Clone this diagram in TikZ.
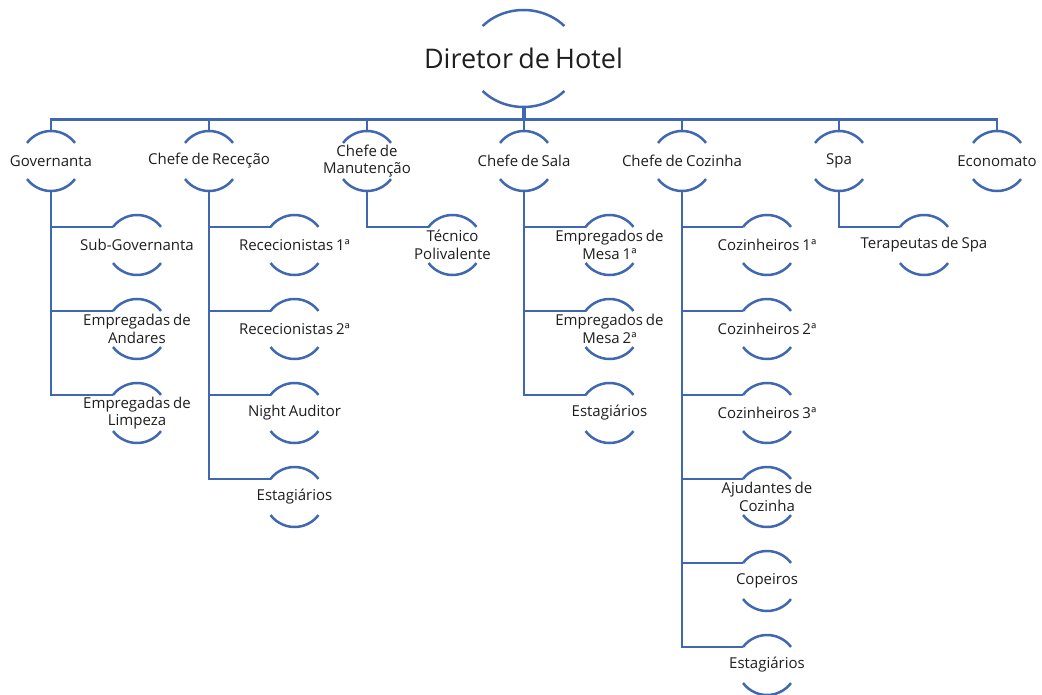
\documentclass[tikz,border=0pt]{standalone}
\usepackage{fontspec}
\setmainfont[WordSpace=0.75]{Open Sans}
\usetikzlibrary{shapes.geometric}
\definecolor{lineblue}{HTML}{3F67B2}
\definecolor{txtgray}{HTML}{1E1E1E}
\begin{document}
\begin{tikzpicture}[x=1pt,y=1pt,
  conn/.style={draw=lineblue,line width=2.5pt},
  arcline/.style={draw=lineblue,line width=2.5pt},
  hub/.style={circle,minimum size=60pt,inner sep=0pt,outer sep=0pt},
  lbl/.style={font=\fontsize{15}{17.5}\selectfont,text=txtgray,align=center,inner sep=0pt},
  toplbl/.style={font=\fontsize{27}{30}\selectfont,text=txtgray,inner sep=0pt}
]
\useasboundingbox (0,0) rectangle (1042,-695);

% top
\node[ellipse,minimum width=110pt,minimum height=97pt,inner sep=0pt,outer sep=0pt,
      label={[toplbl]center:Diretor de Hotel}] (dir) at (523.5,-58.5) {};

% level 2
\node[hub,label={[lbl]center:Governanta}] (gov) at (51,-161) {};
\node[hub,label={[lbl]center:Chefe de Receção}] (rec) at (209,-161) {};
\node[hub,label={[lbl]center:{Chefe de\\Manutenção}}] (man) at (367,-161) {};
\node[hub,label={[lbl]center:Chefe de Sala}] (sala) at (524,-161) {};
\node[hub,label={[lbl]center:Chefe de Cozinha}] (coz) at (682,-161) {};
\node[hub,label={[lbl]center:Spa}] (spa) at (839,-161) {};
\node[hub,label={[lbl]center:Economato}] (eco) at (997,-161) {};

% children of Governanta
\node[hub,label={[lbl]center:Sub-Governanta}] (g1) at (137,-245) {};
\node[hub,label={[lbl]center:{Empregadas de\\Andares}}] (g2) at (137,-329) {};
\node[hub,label={[lbl]center:{Empregadas de\\Limpeza}}] (g3) at (137,-413) {};
% children of Chefe de Receção
\node[hub,label={[lbl]center:Rececionistas 1ª}] (r1) at (294.5,-245) {};
\node[hub,label={[lbl]center:Rececionistas 2ª}] (r2) at (294.5,-329) {};
\node[hub,label={[lbl]center:Night Auditor}] (r3) at (294.5,-413) {};
\node[hub,label={[lbl]center:Estagiários}] (r4) at (294.5,-497) {};
% child of Chefe de Manutenção
\node[hub,label={[lbl]center:{Técnico\\Polivalente}}] (m1) at (452.5,-245) {};
% children of Chefe de Sala
\node[hub,label={[lbl]center:{Empregados de\\Mesa 1ª}}] (s1) at (609.5,-245) {};
\node[hub,label={[lbl]center:{Empregados de\\Mesa 2ª}}] (s2) at (609.5,-329) {};
\node[hub,label={[lbl]center:Estagiários}] (s3) at (609.5,-413) {};
% children of Chefe de Cozinha
\node[hub,label={[lbl]center:Cozinheiros 1ª}] (c1) at (767,-245) {};
\node[hub,label={[lbl]center:Cozinheiros 2ª}] (c2) at (767,-329) {};
\node[hub,label={[lbl]center:Cozinheiros 3ª}] (c3) at (767,-413) {};
\node[hub,label={[lbl]center:{Ajudantes de\\Cozinha}}] (c4) at (767,-497) {};
\node[hub,label={[lbl]center:Copeiros}] (c5) at (767,-581) {};
\node[hub,label={[lbl]center:Estagiários}] (c6) at (767,-665) {};
% child of Spa
\node[hub,label={[lbl]center:Terapeutas de Spa}] (p1) at (924,-245) {};

% arcs
\draw[arcline] ([shift={(138:55 and 48.5)}]dir.center) arc[start angle=138,end angle=42,x radius=55,y radius=48.5];
\draw[arcline] ([shift={(222:55 and 48.5)}]dir.center) arc[start angle=222,end angle=318,x radius=55,y radius=48.5];
\foreach \n in {gov,rec,man,sala,coz,spa,eco,g1,g2,g3,r1,r2,r3,r4,m1,s1,s2,s3,c1,c2,c3,c4,c5,c6,p1}{
  \draw[arcline] (\n.143) arc[start angle=143,end angle=37,radius=30];
  \draw[arcline] (\n.217) arc[start angle=217,end angle=323,radius=30];
}

% connectors
\coordinate (bus) at (523.5,-119.5);
\draw[conn,line width=4pt] (dir.south) -- (bus);
\foreach \n in {gov,rec,man,sala,coz,spa,eco}{
  \draw[conn] (bus) -| (\n.north);
}
\foreach \p/\c in {gov/g1,gov/g2,gov/g3,rec/r1,rec/r2,rec/r3,rec/r4,man/m1,sala/s1,sala/s2,sala/s3,coz/c1,coz/c2,coz/c3,coz/c4,coz/c5,coz/c6,spa/p1}{
  \draw[conn] (\p.south) |- (\c.143);
}
\end{tikzpicture}
\end{document}
